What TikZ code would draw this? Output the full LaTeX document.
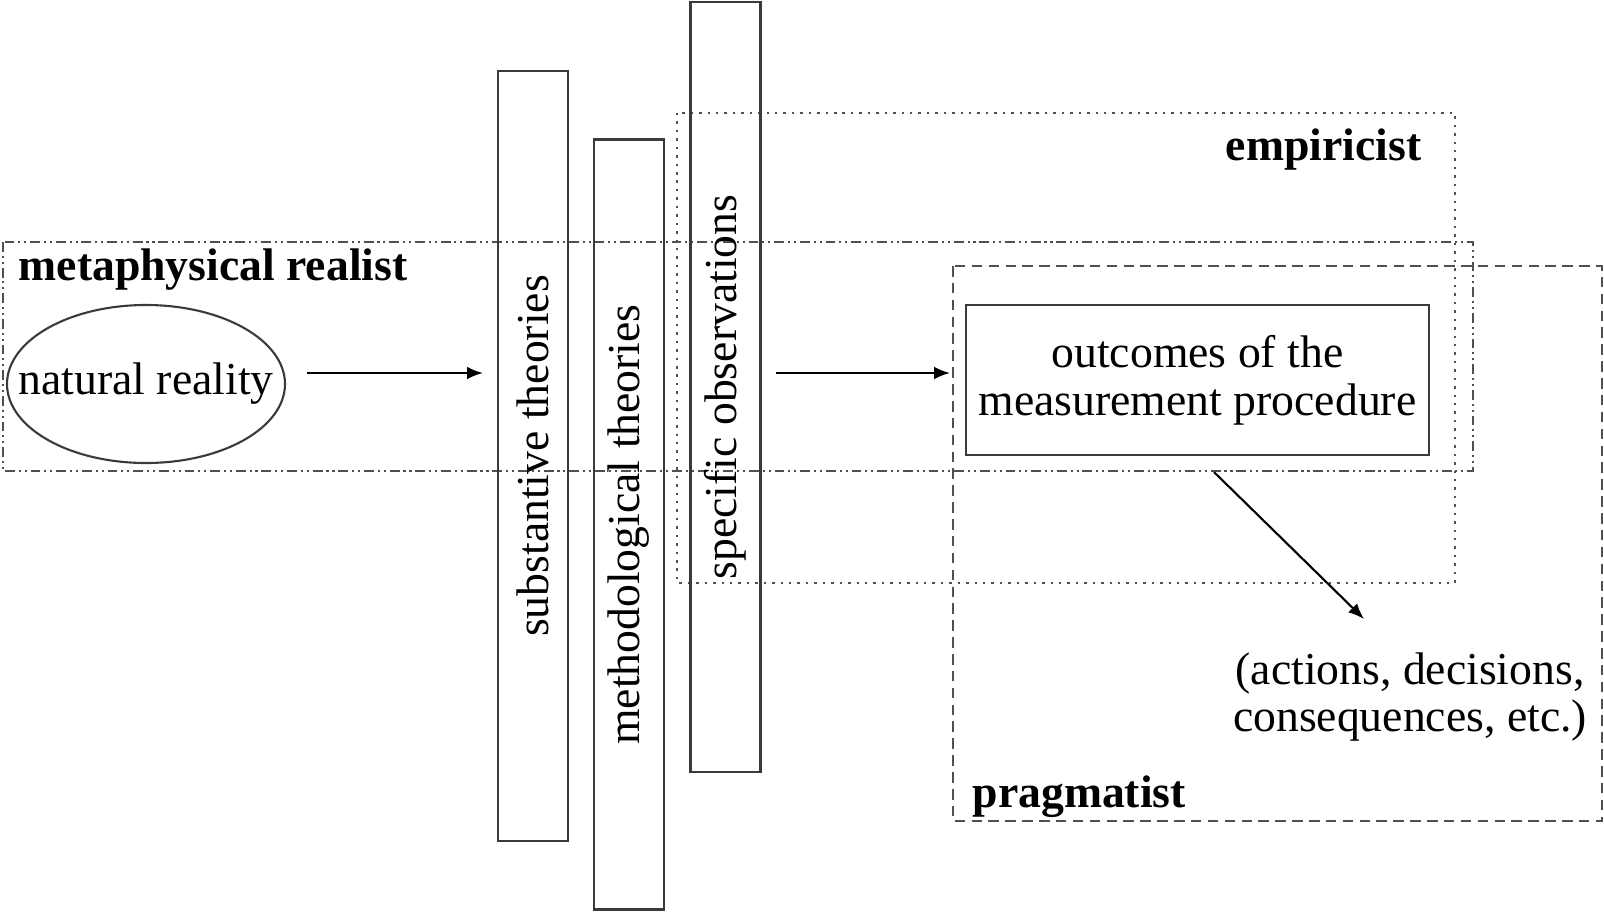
\documentclass[tikz,border=0pt]{standalone}
\usepackage{xcolor}
\usepackage{tikz}
\usepackage{fontspec}
\setmainfont{Liberation Serif}
\usetikzlibrary{shapes,arrows.meta,positioning,calc}
\definecolor{boxgray}{HTML}{505050}
\definecolor{rulegray}{HTML}{3A3A3A}
\tikzset{
  frame/.style={boxgray,line width=0.75pt},
  realistline/.style={frame,dash pattern=on 2.8pt off 1.1pt on 0.6pt off 1.1pt on 0.6pt off 1.1pt},
  empiricistline/.style={frame,dash pattern=on 0.7pt off 1.7pt},
  pragmatistline/.style={frame,dash pattern=on 3pt off 1.8pt},
  theorybar/.style={draw=rulegray,line width=0.6pt,rotate=90,minimum width=7.70cm,minimum height=0.70cm,inner sep=0pt},
  schoolname/.style={font=\fontsize{13}{13.6}\selectfont\bfseries,inner sep=0pt},
  flow/.style={-{Latex[length=4.5pt,width=3.6pt]},line width=0.6pt}
}

\begin{document}
\begin{tikzpicture}[font=\fontsize{13}{13.6}\selectfont]
  \useasboundingbox (0,0) rectangle (16.04,-9.12);

  % Frames of the three positions
  \draw[empiricistline] (6.77,-1.13) rectangle (14.55,-5.83);
  \draw[realistline] (0.03,-2.42) rectangle (14.73,-4.71);
  \draw[pragmatistline] (9.53,-2.66) rectangle (16.02,-8.21);
  \node[schoolname,anchor=west] (realist) at (0.18,-2.70) {metaphysical realist};
  \node[schoolname,anchor=east] (empiricist) at (14.22,-1.50) {empiricist};
  \node[schoolname,anchor=west] (pragmatist) at (9.72,-7.97) {pragmatist};

  % Natural reality
  \node (natural) at (1.46,-3.84) {natural reality};
  \draw[rulegray,line width=0.6pt] (natural.center) ellipse [x radius=1.39cm, y radius=0.79cm];

  % Theory bars
  \node[theorybar] (subst) at (5.33,-4.56) {substantive theories};
  \node[theorybar] (method) at (6.29,-5.245) {methodological theories};
  \node[theorybar] (obs) at (7.255,-3.87) {specific observations};

  % Outcomes
  \node[draw=rulegray,line width=0.6pt,minimum width=4.63cm,minimum height=1.50cm,align=center] (outcome) at (11.975,-3.80) {outcomes of the\\measurement procedure};
  \node[align=center] (actions) at (14.10,-6.97) {(actions, decisions,\\consequences, etc.)};

  % Arrows
  \coordinate (entry) at (3.07,-3.73);
  \coordinate (tip) at (13.64,-6.19);
  \draw[flow,shorten >=0.14cm] (entry) -- (entry -| subst.north);
  \draw[flow,shorten <=0.14cm,shorten >=0.15cm] (obs.south |- entry) -- (outcome.west |- entry);
  \draw[flow] ([xshift=0.165cm,yshift=-0.16cm]outcome.south) -- (tip);
\end{tikzpicture}
\end{document}
